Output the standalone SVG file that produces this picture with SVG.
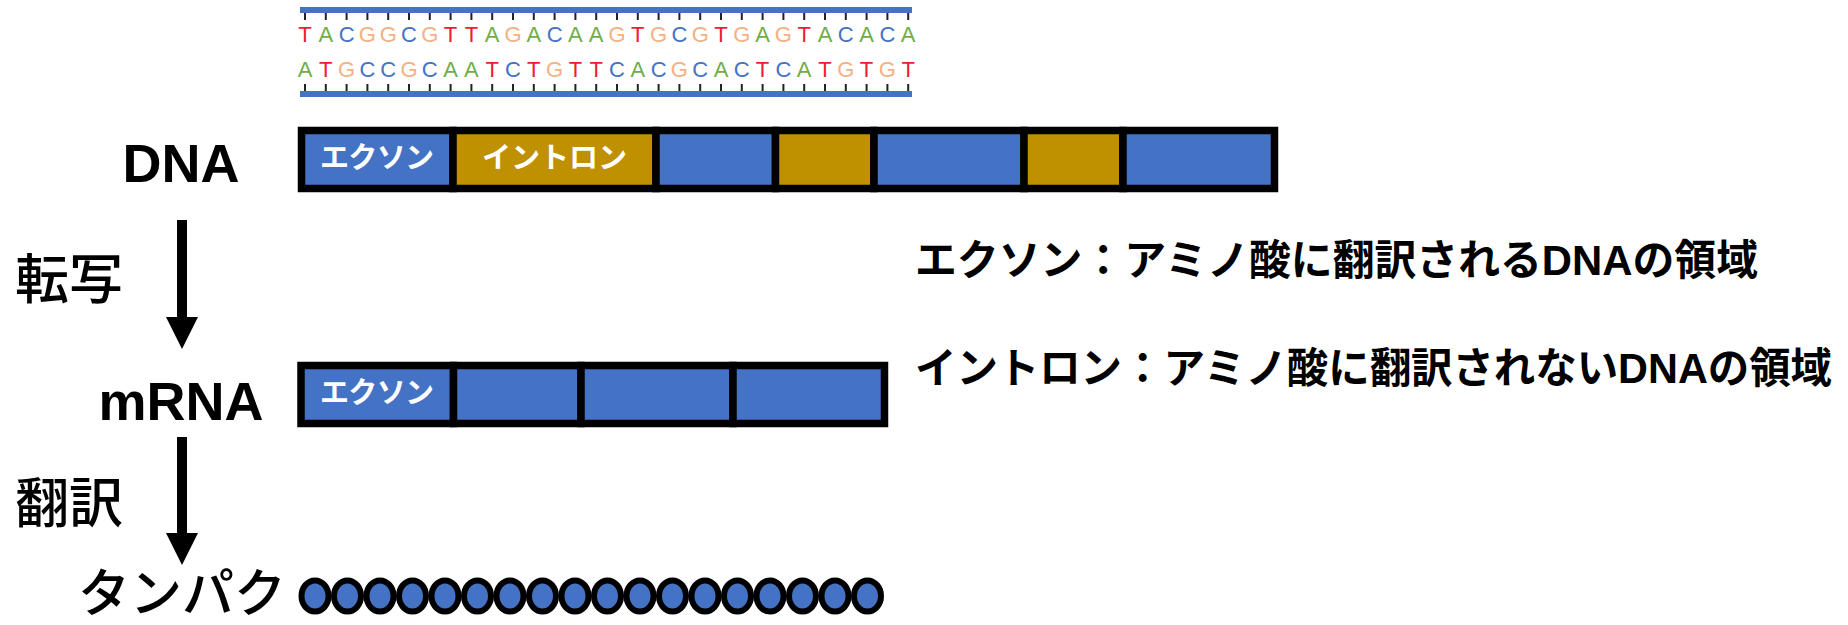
<svg xmlns="http://www.w3.org/2000/svg" width="1848" height="625" viewBox="0 0 1848 625">
  <style>
    .nt { font-family: "Liberation Sans", Arial, sans-serif; font-size: 22px; text-anchor: middle; }
    .T { fill: #ef1c2c; }
    .A { fill: #70ad47; }
    .C { fill: #4472c4; }
    .G { fill: #f4b183; }
    .strand { fill: #4472c4; }
    .tick { stroke: #222; stroke-width: 2; fill: none; }
    .seg { stroke: #000; stroke-width: 7.5; }
    .exon { fill: #4472c4; }
    .intron { fill: #bf9000; }
    .seglbl { font-family: "Noto Sans CJK JP", sans-serif; font-size: 29px; font-weight: bold; fill: #fff; text-anchor: middle; }
    .big { font-family: "Liberation Sans", Arial, sans-serif; font-size: 54px; font-weight: bold; fill: #000; text-anchor: middle; }
    .jp { font-family: "Noto Sans CJK JP", sans-serif; font-size: 54px; font-weight: 500; fill: #000; text-anchor: middle; }
    .legend { font-family: "Liberation Sans", "Noto Sans CJK JP", sans-serif; font-size: 42px; font-weight: bold; fill: #000; }
    .bead { fill: #4472c4; stroke: #000; stroke-width: 6; }
    .arrow { stroke: #000; stroke-width: 10; fill: none; marker-end: url(#head); }
  </style>
  <defs>
    <marker id="head" markerUnits="userSpaceOnUse" markerWidth="32" markerHeight="32" viewBox="0 0 32 32" refX="0" refY="16" orient="auto">
      <path d="M0,0 L32,16 L0,32 Z" fill="#000"/>
    </marker>
  </defs>
  <rect width="1848" height="625" fill="#fff"/>

  <g id="dna-strand">
    <rect class="strand" x="300" y="7" width="612" height="6"/>
    <rect class="strand" x="300" y="91" width="612" height="6"/>
    <path class="tick" d="M305,13V20M325.8,13V20M346.6,13V20M367.4,13V20M388.2,13V20M409,13V20M429.8,13V20M450.6,13V20M471.4,13V20M492.2,13V20M513,13V20M533.8,13V20M554.6,13V20M575.4,13V20M596.2,13V20M617,13V20M637.8,13V20M658.6,13V20M679.4,13V20M700.2,13V20M721,13V20M741.8,13V20M762.6,13V20M783.4,13V20M804.2,13V20M825,13V20M845.8,13V20M866.6,13V20M887.4,13V20M908.2,13V20
      M305,84V91M325.8,84V91M346.6,84V91M367.4,84V91M388.2,84V91M409,84V91M429.8,84V91M450.6,84V91M471.4,84V91M492.2,84V91M513,84V91M533.8,84V91M554.6,84V91M575.4,84V91M596.2,84V91M617,84V91M637.8,84V91M658.6,84V91M679.4,84V91M700.2,84V91M721,84V91M741.8,84V91M762.6,84V91M783.4,84V91M804.2,84V91M825,84V91M845.8,84V91M866.6,84V91M887.4,84V91M908.2,84V91"/>
    <text class="nt" y="42"><tspan x="305" class="T">T</tspan><tspan x="325.8" class="A">A</tspan><tspan x="346.6" class="C">C</tspan><tspan x="367.4" class="G">G</tspan><tspan x="388.2" class="G">G</tspan><tspan x="409" class="C">C</tspan><tspan x="429.8" class="G">G</tspan><tspan x="450.6" class="T">T</tspan><tspan x="471.4" class="T">T</tspan><tspan x="492.2" class="A">A</tspan><tspan x="513" class="G">G</tspan><tspan x="533.8" class="A">A</tspan><tspan x="554.6" class="C">C</tspan><tspan x="575.4" class="A">A</tspan><tspan x="596.2" class="A">A</tspan><tspan x="617" class="G">G</tspan><tspan x="637.8" class="T">T</tspan><tspan x="658.6" class="G">G</tspan><tspan x="679.4" class="C">C</tspan><tspan x="700.2" class="G">G</tspan><tspan x="721" class="T">T</tspan><tspan x="741.8" class="G">G</tspan><tspan x="762.6" class="A">A</tspan><tspan x="783.4" class="G">G</tspan><tspan x="804.2" class="T">T</tspan><tspan x="825" class="A">A</tspan><tspan x="845.8" class="C">C</tspan><tspan x="866.6" class="A">A</tspan><tspan x="887.4" class="C">C</tspan><tspan x="908.2" class="A">A</tspan></text>
    <text class="nt" y="77"><tspan x="305" class="A">A</tspan><tspan x="325.8" class="T">T</tspan><tspan x="346.6" class="G">G</tspan><tspan x="367.4" class="C">C</tspan><tspan x="388.2" class="C">C</tspan><tspan x="409" class="G">G</tspan><tspan x="429.8" class="C">C</tspan><tspan x="450.6" class="A">A</tspan><tspan x="471.4" class="A">A</tspan><tspan x="492.2" class="T">T</tspan><tspan x="513" class="C">C</tspan><tspan x="533.8" class="T">T</tspan><tspan x="554.6" class="G">G</tspan><tspan x="575.4" class="T">T</tspan><tspan x="596.2" class="T">T</tspan><tspan x="617" class="C">C</tspan><tspan x="637.8" class="A">A</tspan><tspan x="658.6" class="C">C</tspan><tspan x="679.4" class="G">G</tspan><tspan x="700.2" class="C">C</tspan><tspan x="721" class="A">A</tspan><tspan x="741.8" class="C">C</tspan><tspan x="762.6" class="T">T</tspan><tspan x="783.4" class="C">C</tspan><tspan x="804.2" class="A">A</tspan><tspan x="825" class="T">T</tspan><tspan x="845.8" class="G">G</tspan><tspan x="866.6" class="T">T</tspan><tspan x="887.4" class="G">G</tspan><tspan x="908.2" class="T">T</tspan></text>
  </g>

  <g id="dna-bar">
    <rect class="seg exon" x="301.5" y="130.5" width="151.5" height="58"/>
    <rect class="seg intron" x="453" y="130.5" width="203" height="58"/>
    <rect class="seg exon" x="656" y="130.5" width="119.5" height="58"/>
    <rect class="seg intron" x="775.5" y="130.5" width="98.5" height="58"/>
    <rect class="seg exon" x="874" y="130.5" width="150" height="58"/>
    <rect class="seg intron" x="1024" y="130.5" width="99" height="58"/>
    <rect class="seg exon" x="1123" y="130.5" width="151.5" height="58"/>
    <text class="seglbl" x="377" y="168" textLength="114" lengthAdjust="spacing">エクソン</text>
    <text class="seglbl" x="554.5" y="168">イントロン</text>
  </g>

  <g id="mrna-bar">
    <rect class="seg exon" x="301" y="365.5" width="152.5" height="58"/>
    <rect class="seg exon" x="453.5" y="365.5" width="127.5" height="58"/>
    <rect class="seg exon" x="581" y="365.5" width="152" height="58"/>
    <rect class="seg exon" x="733" y="365.5" width="151.5" height="58"/>
    <text class="seglbl" x="377" y="403" textLength="114" lengthAdjust="spacing">エクソン</text>
  </g>

  <g id="protein">
    <ellipse class="bead" cx="315" cy="596" rx="13.5" ry="15.5"/>
    <ellipse class="bead" cx="347.5" cy="596" rx="13.5" ry="15.5"/>
    <ellipse class="bead" cx="380" cy="596" rx="13.5" ry="15.5"/>
    <ellipse class="bead" cx="412.5" cy="596" rx="13.5" ry="15.5"/>
    <ellipse class="bead" cx="445" cy="596" rx="13.5" ry="15.5"/>
    <ellipse class="bead" cx="477.5" cy="596" rx="13.5" ry="15.5"/>
    <ellipse class="bead" cx="510" cy="596" rx="13.5" ry="15.5"/>
    <ellipse class="bead" cx="542.5" cy="596" rx="13.5" ry="15.5"/>
    <ellipse class="bead" cx="575" cy="596" rx="13.5" ry="15.5"/>
    <ellipse class="bead" cx="607.5" cy="596" rx="13.5" ry="15.5"/>
    <ellipse class="bead" cx="640" cy="596" rx="13.5" ry="15.5"/>
    <ellipse class="bead" cx="672.5" cy="596" rx="13.5" ry="15.5"/>
    <ellipse class="bead" cx="705" cy="596" rx="13.5" ry="15.5"/>
    <ellipse class="bead" cx="737.5" cy="596" rx="13.5" ry="15.5"/>
    <ellipse class="bead" cx="770" cy="596" rx="13.5" ry="15.5"/>
    <ellipse class="bead" cx="802.5" cy="596" rx="13.5" ry="15.5"/>
    <ellipse class="bead" cx="835" cy="596" rx="13.5" ry="15.5"/>
    <ellipse class="bead" cx="867.5" cy="596" rx="13.5" ry="15.5"/>
  </g>

  <g id="labels">
    <text id="lbl-dna" class="big" x="181" y="182">DNA</text>
    <text id="lbl-mrna" class="big" x="181" y="420">mRNA</text>
    <text id="lbl-transcription" class="jp" x="69" y="299">転写</text>
    <text id="lbl-translation" class="jp" x="69" y="523">翻訳</text>
    <text id="lbl-protein" class="jp" x="182" y="612" style="font-size:52px">タンパク</text>
  </g>

  <g id="legend">
    <text class="legend" x="915" y="275" textLength="843" lengthAdjust="spacingAndGlyphs">エクソン：アミノ酸に翻訳されるDNAの領域</text>
    <text class="legend" x="915" y="383" textLength="917" lengthAdjust="spacingAndGlyphs">イントロン：アミノ酸に翻訳されないDNAの領域</text>
  </g>

  <g id="connectors">
    <path class="arrow" d="M182,220 V317"/>
    <path class="arrow" d="M182,437 V533"/>
  </g>
</svg>
